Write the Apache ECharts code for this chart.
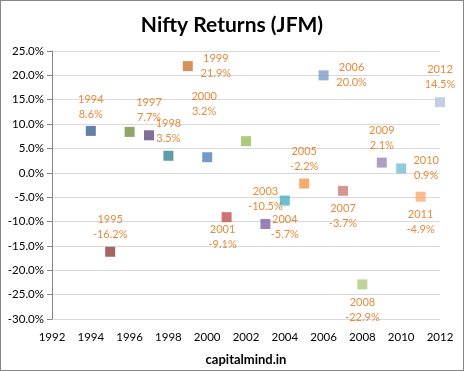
<!DOCTYPE html>
<html>
<head>
<meta charset="utf-8">
<script src="https://cdn.jsdelivr.net/npm/echarts@6/dist/echarts.min.js"></script>
<style>
html,body{margin:0;padding:0;background:#fff;}
#wrap{position:absolute;left:0;top:0;width:464px;height:371px;box-sizing:border-box;border:1px solid #868686;}
#chart{position:absolute;left:0;top:0;width:464px;height:371px;}
</style>
</head>
<body>
<div id="chart"></div>
<div id="wrap"></div>
<script>
// ---- data ----
const years   = [1994, 1995, 1996, 1997, 1998, 1999, 2000, 2001, 2002, 2003, 2004, 2005, 2006, 2007, 2008, 2009, 2010, 2011, 2012];
const returns = [8.6, -16.2, 8.4, 7.7, 3.5, 21.9, 3.2, -9.1, 6.5, -10.5, -5.7, -2.2, 20.0, -3.7, -22.9, 2.1, 0.9, -4.9, 14.5];
const labelled = [true, true, false, true, true, true, true, true, false, true, true, true, true, true, true, true, true, true, true];
const xTicks = {min: 1992, max: 2012, step: 2};
const yTicks = {min: -30, max: 25, step: 5};

// ---- styles ----
const colors = ['#3C6290', '#923D3B', '#768E44', '#614C7B', '#398396', '#C87533',
                '#4F81BD', '#C0504D', '#9BBB59', '#8064A2', '#4BACC6', '#F79646',
                '#7B9BCB', '#CD7B7A', '#AFC97F', '#9C86B7', '#78BDD0', '#F9AB78', '#B4C4E0'];
const labelOffset = [[0,-24],[0,-25],[0,0],[0,-25],[0,-25],[28,0],[-3,-53],[-4,20],[0,0],[0,-25],
                     [0,26],[0,-25],[28,0],[0,25],[0,26],[0,-25],[25,0],[0,25],[0,-25]];
const FONT = 'Lato';

const chart = echarts.init(document.getElementById('chart'), null, {renderer: 'canvas'});
const data = years.map((y, i) => ({
  value: [y, returns[i]],
  itemStyle: {color: colors[i]},
  label: {
    show: labelled[i],
    position: 'inside',
    align: 'center',
    verticalAlign: 'middle',
    offset: labelOffset[i],
    formatter: () => years[i] + '\n' + returns[i].toFixed(1) + '%'
  }
}));

chart.setOption({
  animation: false,
  backgroundColor: '#fff',
  title: {
    text: 'Nifty Returns (JFM)',
    left: 'center',
    top: 10,
    textStyle: {fontFamily: FONT, fontWeight: 'bold', fontSize: 21, color: '#000'}
  },
  grid: {left: 52, right: 24, top: 51, bottom: 46, containLabel: false},
  xAxis: {
    type: 'value',
    min: xTicks.min, max: xTicks.max, interval: xTicks.step,
    name: 'capitalmind.in',
    nameLocation: 'middle',
    nameGap: 34,
    nameTextStyle: {fontFamily: FONT, fontWeight: 'bold', fontSize: 13, color: '#000'},
    axisLine: {show: false},
    axisTick: {show: false},
    splitLine: {show: false},
    axisLabel: {fontFamily: FONT, fontSize: 11.5, color: '#000', margin: 12, formatter: v => String(v)}
  },
  yAxis: {
    type: 'value',
    min: yTicks.min, max: yTicks.max, interval: yTicks.step,
    axisLine: {show: true, lineStyle: {color: '#868686', width: 1}},
    axisTick: {show: true, inside: false, length: 5, lineStyle: {color: '#868686'}},
    splitLine: {show: true, lineStyle: {color: '#D9D9D9', width: 1}},
    axisLabel: {fontFamily: FONT, fontSize: 11.5, color: '#000', margin: 8, formatter: v => v.toFixed(1) + '%'}
  },
  series: [{
    type: 'scatter',
    symbol: 'rect',
    symbolSize: 10,
    data: data,
    label: {
      fontFamily: FONT, fontSize: 11, color: '#E46C0A', lineHeight: 15
    },
    emphasis: {disabled: true}
  }]
});
</script>
</body>
</html>
